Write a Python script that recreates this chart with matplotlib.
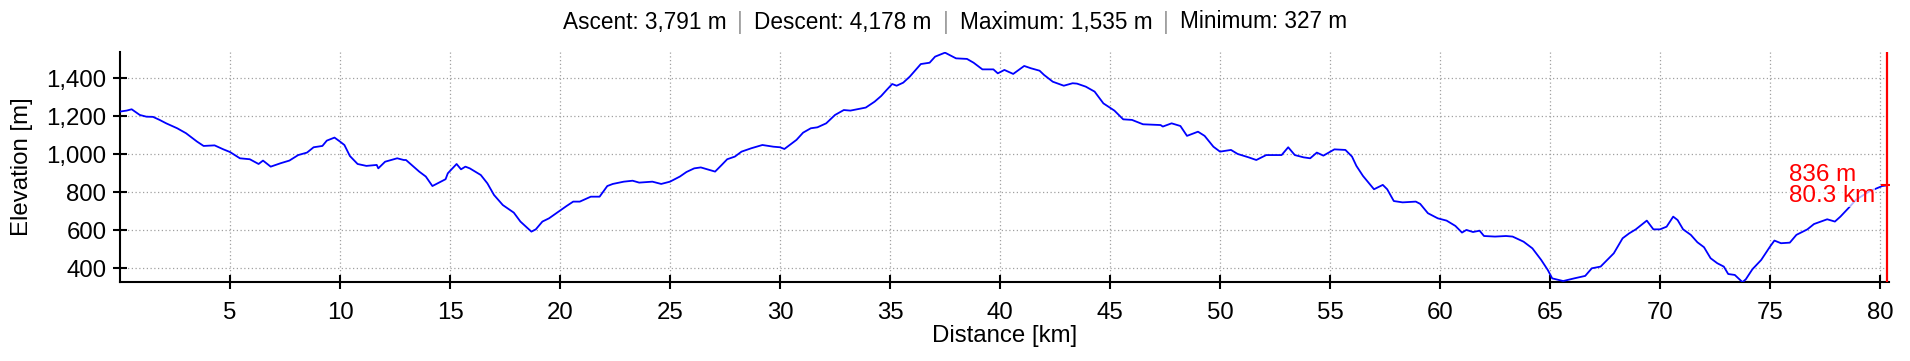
import matplotlib
matplotlib.use("Agg")
import matplotlib.pyplot as plt
from matplotlib.ticker import FuncFormatter

plt.rcParams['font.family'] = ['Liberation Sans', 'DejaVu Sans']

# profile: distance [km], elevation [m]
dist = [0.0, 0.3, 0.53, 0.9, 1.2, 1.5, 1.8, 2.1, 2.6, 3.0, 3.5, 3.8, 4.3, 4.7,
        5.0, 5.45, 5.9, 6.3, 6.5, 6.85, 7.3, 7.7, 8.1, 8.5, 8.8, 9.2, 9.4, 9.75,
        10.0, 10.2, 10.45, 10.8, 11.2, 11.67, 11.74, 12.05, 12.6, 12.9, 13.0,
        13.6, 13.9, 14.2, 14.5, 14.8, 14.9, 15.3, 15.5, 15.7, 15.9, 16.4, 16.7,
        17.0, 17.4, 17.9, 18.2, 18.5, 18.7, 18.9, 19.2, 19.5, 20.0, 20.3, 20.6,
        20.9, 21.4, 21.8, 22.15, 22.4, 22.9, 23.3, 23.6, 24.2, 24.6, 25.0, 25.45,
        25.75, 26.1, 26.4, 26.7, 27.05, 27.35, 27.6, 27.95, 28.25, 28.7, 29.2,
        29.7, 30.0, 30.2, 30.75, 31.05, 31.4, 31.7, 32.1, 32.5, 32.9, 33.2, 33.9,
        34.3, 34.6, 34.85, 35.1, 35.3, 35.6, 35.9, 36.4, 36.8, 37.05, 37.5, 38.0,
        38.5, 38.8, 39.2, 39.7, 39.9, 40.2, 40.6, 41.1, 41.4, 41.8, 42.0, 42.4,
        42.9, 43.3, 43.5, 43.9, 44.3, 44.7, 45.2, 45.6, 46.0, 46.5, 47.3, 47.4,
        47.8, 48.2, 48.5, 49.0, 49.3, 49.7, 50.0, 50.5, 50.8, 51.3, 51.65, 52.1,
        52.8, 53.1, 53.4, 53.8, 54.1, 54.4, 54.7, 55.2, 55.7, 56.0, 56.2, 56.5,
        57.0, 57.4, 57.6, 57.9, 58.3, 58.9, 59.1, 59.45, 59.9, 60.3, 60.7, 61.0,
        61.2, 61.5, 61.8, 62.0, 62.5, 63.0, 63.3, 63.8, 64.2, 64.6, 64.9, 65.1,
        65.6, 66.1, 66.6, 66.9, 67.3, 67.9, 68.3, 68.6, 68.9, 69.4, 69.7, 70.0,
        70.3, 70.6, 70.8, 71.05, 71.4, 71.7, 72.0, 72.3, 72.6, 72.9, 73.1, 73.4,
        73.75, 73.9, 74.2, 74.6, 75.0, 75.2, 75.5, 75.9, 76.2, 76.7, 77.0, 77.6,
        77.95, 78.2, 78.6, 78.9, 79.5, 80.1, 80.3]
elev = [1225, 1230, 1237, 1207, 1198, 1197, 1181, 1163, 1137, 1111, 1067, 1044, 1047, 1026,
        1012, 979, 974, 949, 967, 935, 953, 967, 996, 1009, 1037, 1044, 1072, 1088,
        1067, 1049, 991, 949, 939, 944, 926, 961, 979, 970, 970,
        909, 883, 833, 851, 869, 900, 949, 921, 935, 926, 891, 847,
        786, 733, 693, 646, 614, 593, 605, 646, 663, 704, 728, 751,
        751, 777, 777, 833, 844, 856, 861, 851, 856, 844, 856, 883,
        907, 926, 931, 921, 909, 944, 974, 988, 1014, 1032, 1049,
        1040, 1037, 1028, 1076, 1114, 1137, 1142, 1163, 1207, 1233, 1230, 1246,
        1277, 1307, 1339, 1370, 1361, 1377, 1409, 1475, 1482, 1514, 1535, 1505,
        1502, 1482, 1447, 1447, 1426, 1444, 1423, 1465, 1453, 1440, 1418, 1382,
        1361, 1374, 1372, 1356, 1330, 1268, 1230, 1184, 1181, 1158, 1154, 1146,
        1163, 1149, 1097, 1119, 1097, 1040, 1014, 1023, 1002, 984, 970, 996,
        996, 1037, 996, 984, 979, 1009, 993, 1026, 1023, 988, 939, 886,
        816, 839, 816, 754, 747, 751, 739, 690, 663, 651, 623, 588,
        602, 591, 598, 570, 567, 570, 567, 540, 505, 444, 391, 347,
        333, 347, 360, 400, 409, 479, 558, 584, 605, 651, 605, 605,
        619, 672, 654, 605, 576, 537, 511, 453, 427, 409, 370, 365,
        327, 342, 395, 444, 514, 546, 532, 535, 576, 605, 633, 658,
        646, 672, 721, 760, 804, 833, 836]

title_parts = ["Ascent: 3,791 m", "Descent: 4,178 m", "Maximum: 1,535 m", "Minimum: 327 m"]
cursor_km = 80.3
cursor_m = 836

W, H = 1910, 361
fig = plt.figure(figsize=(W / 100, H / 100), dpi=100)
ax_w = 22 * 80.4
ax = fig.add_axes([120 / W, (H - 281.7) / H, ax_w / W, 230 / H])

ax.plot(dist, elev, color='#0000ff', lw=1.3, zorder=3)
ax.set_xlim(0, 80.4)
ax.set_ylim(329.5, 1540)

ax.set_xticks(range(5, 81, 5))
ax.set_yticks(range(400, 1401, 200))
ax.yaxis.set_major_formatter(FuncFormatter(lambda v, p: f"{v:,.0f}"))

for s in ['top', 'right']:
    ax.spines[s].set_visible(False)
for s in ['left', 'bottom']:
    ax.spines[s].set_linewidth(1.5)
ax.tick_params(direction='inout', length=9.6, width=1.5, labelsize=17.3, pad=5)
ax.tick_params(axis='x', pad=10)
ax.grid(True, color='#a0a0a0', linestyle=(0, (1, 2)), lw=0.9)

ax.set_xlabel("Distance [km]", fontsize=17.3)
ax.set_ylabel("Elevation [m]", fontsize=17.3)
ax.xaxis.set_label_coords(0.5, (281.7 - 325) / 230)
ax.yaxis.set_label_coords((33 - 120) / ax_w, 0.5)

# cursor
ax.axvline(cursor_km, color='red', lw=1.6, zorder=4)
ax.plot([cursor_km], [cursor_m], marker='_', ms=8.5, mew=1.5, color='red', zorder=5)
ax.annotate(f"{cursor_m} m\n{cursor_km} km", (cursor_km, cursor_m), xytext=(-8, 0),
            textcoords='offset points', ha='right', va='center', multialignment='left',
            color='red', fontsize=17.5, linespacing=0.95, zorder=6,
            bbox=dict(facecolor='white', alpha=0.7, edgecolor='none', pad=0))

# title with grey separators
pieces = []
for i, t in enumerate(title_parts):
    if i > 0:
        pieces.append(fig.text(0, 1 - 22 / H, "|", color='#a0a0a0', fontsize=16.3, va='center'))
    pieces.append(fig.text(0, 1 - 22 / H, t, color='black', fontsize=16.3, va='center'))
fig.canvas.draw()
r = fig.canvas.get_renderer()
gap = 11
widths = [p.get_window_extent(r).width for p in pieces]
total = sum(widths) + gap * (len(pieces) - 1)
x = W / 2 - total / 2
for p, w in zip(pieces, widths):
    p.set_x(x / W)
    x += w + gap

fig.savefig("out.png", dpi=100)
